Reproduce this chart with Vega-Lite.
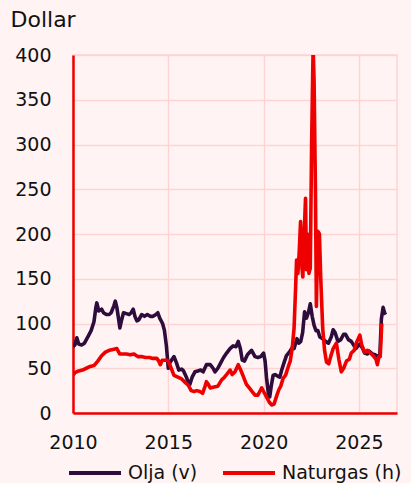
{
  "$schema": "https://vega.github.io/schema/vega-lite/v6.json",
  "autosize": "none",
  "width": 324,
  "height": 358,
  "padding": {"left": 73, "top": 55, "right": 14, "bottom": 70},
  "background": "#fff4f3",
  "config": {
    "view": {"stroke": "#ffd3d3", "strokeWidth": 1.5},
    "font": "DejaVu Sans"
  },
  "data": {"values": [
    {"s":"Olja (v)","t":2010.0,"v":74},{"s":"Olja (v)","t":2010.1,"v":76},{"s":"Olja (v)","t":2010.2,"v":84},{"s":"Olja (v)","t":2010.3,"v":77},{"s":"Olja (v)","t":2010.45,"v":76},{"s":"Olja (v)","t":2010.6,"v":78},{"s":"Olja (v)","t":2010.8,"v":86},{"s":"Olja (v)","t":2010.95,"v":92},{"s":"Olja (v)","t":2011.1,"v":102},{"s":"Olja (v)","t":2011.2,"v":118},{"s":"Olja (v)","t":2011.25,"v":123},{"s":"Olja (v)","t":2011.35,"v":114},{"s":"Olja (v)","t":2011.5,"v":116},{"s":"Olja (v)","t":2011.6,"v":112},{"s":"Olja (v)","t":2011.75,"v":110},{"s":"Olja (v)","t":2011.9,"v":110},{"s":"Olja (v)","t":2012.0,"v":112},{"s":"Olja (v)","t":2012.15,"v":120},{"s":"Olja (v)","t":2012.22,"v":125},{"s":"Olja (v)","t":2012.3,"v":118},{"s":"Olja (v)","t":2012.4,"v":104},{"s":"Olja (v)","t":2012.46,"v":95},{"s":"Olja (v)","t":2012.55,"v":104},{"s":"Olja (v)","t":2012.65,"v":112},{"s":"Olja (v)","t":2012.8,"v":111},{"s":"Olja (v)","t":2012.95,"v":110},{"s":"Olja (v)","t":2013.05,"v":112},{"s":"Olja (v)","t":2013.16,"v":116},{"s":"Olja (v)","t":2013.25,"v":108},{"s":"Olja (v)","t":2013.35,"v":103},{"s":"Olja (v)","t":2013.45,"v":104},{"s":"Olja (v)","t":2013.6,"v":110},{"s":"Olja (v)","t":2013.75,"v":108},{"s":"Olja (v)","t":2013.9,"v":110},{"s":"Olja (v)","t":2014.05,"v":108},{"s":"Olja (v)","t":2014.2,"v":108},{"s":"Olja (v)","t":2014.35,"v":110},{"s":"Olja (v)","t":2014.45,"v":112},{"s":"Olja (v)","t":2014.55,"v":106},{"s":"Olja (v)","t":2014.7,"v":100},{"s":"Olja (v)","t":2014.8,"v":92},{"s":"Olja (v)","t":2014.9,"v":75},{"s":"Olja (v)","t":2015.0,"v":50},{"s":"Olja (v)","t":2015.08,"v":56},{"s":"Olja (v)","t":2015.2,"v":60},{"s":"Olja (v)","t":2015.3,"v":63},{"s":"Olja (v)","t":2015.43,"v":56},{"s":"Olja (v)","t":2015.55,"v":48},{"s":"Olja (v)","t":2015.7,"v":49},{"s":"Olja (v)","t":2015.8,"v":47},{"s":"Olja (v)","t":2015.95,"v":40},{"s":"Olja (v)","t":2016.05,"v":34},{"s":"Olja (v)","t":2016.13,"v":32},{"s":"Olja (v)","t":2016.25,"v":40},{"s":"Olja (v)","t":2016.4,"v":46},{"s":"Olja (v)","t":2016.55,"v":47},{"s":"Olja (v)","t":2016.7,"v":48},{"s":"Olja (v)","t":2016.83,"v":46},{"s":"Olja (v)","t":2017.0,"v":54},{"s":"Olja (v)","t":2017.2,"v":54},{"s":"Olja (v)","t":2017.35,"v":50},{"s":"Olja (v)","t":2017.45,"v":46},{"s":"Olja (v)","t":2017.6,"v":50},{"s":"Olja (v)","t":2017.75,"v":56},{"s":"Olja (v)","t":2017.9,"v":62},{"s":"Olja (v)","t":2018.06,"v":67},{"s":"Olja (v)","t":2018.24,"v":72},{"s":"Olja (v)","t":2018.4,"v":75},{"s":"Olja (v)","t":2018.55,"v":74},{"s":"Olja (v)","t":2018.67,"v":80},{"s":"Olja (v)","t":2018.78,"v":72},{"s":"Olja (v)","t":2018.88,"v":59},{"s":"Olja (v)","t":2019.0,"v":58},{"s":"Olja (v)","t":2019.15,"v":65},{"s":"Olja (v)","t":2019.37,"v":70},{"s":"Olja (v)","t":2019.55,"v":63},{"s":"Olja (v)","t":2019.7,"v":62},{"s":"Olja (v)","t":2019.85,"v":63},{"s":"Olja (v)","t":2020.0,"v":67},{"s":"Olja (v)","t":2020.08,"v":58},{"s":"Olja (v)","t":2020.15,"v":40},{"s":"Olja (v)","t":2020.25,"v":22},{"s":"Olja (v)","t":2020.32,"v":18},{"s":"Olja (v)","t":2020.4,"v":30},{"s":"Olja (v)","t":2020.5,"v":42},{"s":"Olja (v)","t":2020.6,"v":43},{"s":"Olja (v)","t":2020.75,"v":41},{"s":"Olja (v)","t":2020.85,"v":40},{"s":"Olja (v)","t":2020.95,"v":48},{"s":"Olja (v)","t":2021.1,"v":58},{"s":"Olja (v)","t":2021.2,"v":64},{"s":"Olja (v)","t":2021.35,"v":68},{"s":"Olja (v)","t":2021.5,"v":73},{"s":"Olja (v)","t":2021.6,"v":72},{"s":"Olja (v)","t":2021.75,"v":83},{"s":"Olja (v)","t":2021.85,"v":78},{"s":"Olja (v)","t":2021.95,"v":80},{"s":"Olja (v)","t":2022.05,"v":90},{"s":"Olja (v)","t":2022.15,"v":113},{"s":"Olja (v)","t":2022.25,"v":106},{"s":"Olja (v)","t":2022.35,"v":112},{"s":"Olja (v)","t":2022.45,"v":122},{"s":"Olja (v)","t":2022.55,"v":108},{"s":"Olja (v)","t":2022.65,"v":98},{"s":"Olja (v)","t":2022.75,"v":92},{"s":"Olja (v)","t":2022.85,"v":92},{"s":"Olja (v)","t":2022.95,"v":85},{"s":"Olja (v)","t":2023.1,"v":83},{"s":"Olja (v)","t":2023.25,"v":80},{"s":"Olja (v)","t":2023.4,"v":78},{"s":"Olja (v)","t":2023.55,"v":85},{"s":"Olja (v)","t":2023.65,"v":93},{"s":"Olja (v)","t":2023.75,"v":90},{"s":"Olja (v)","t":2023.9,"v":80},{"s":"Olja (v)","t":2024.05,"v":82},{"s":"Olja (v)","t":2024.2,"v":88},{"s":"Olja (v)","t":2024.3,"v":88},{"s":"Olja (v)","t":2024.45,"v":82},{"s":"Olja (v)","t":2024.6,"v":80},{"s":"Olja (v)","t":2024.75,"v":75},{"s":"Olja (v)","t":2024.85,"v":72},{"s":"Olja (v)","t":2024.95,"v":75},{"s":"Olja (v)","t":2025.05,"v":77},{"s":"Olja (v)","t":2025.2,"v":72},{"s":"Olja (v)","t":2025.3,"v":67},{"s":"Olja (v)","t":2025.45,"v":66},{"s":"Olja (v)","t":2025.55,"v":69},{"s":"Olja (v)","t":2025.7,"v":66},{"s":"Olja (v)","t":2025.85,"v":65},{"s":"Olja (v)","t":2026.0,"v":63},{"s":"Olja (v)","t":2026.1,"v":65},{"s":"Olja (v)","t":2026.18,"v":105},{"s":"Olja (v)","t":2026.27,"v":118},{"s":"Olja (v)","t":2026.35,"v":112},{"s":"Olja (v)","t":2026.4,"v":110},
    {"s":"Naturgas (h)","t":2010.0,"v":42},{"s":"Naturgas (h)","t":2010.1,"v":45},{"s":"Naturgas (h)","t":2010.3,"v":47},{"s":"Naturgas (h)","t":2010.5,"v":48},{"s":"Naturgas (h)","t":2010.7,"v":50},{"s":"Naturgas (h)","t":2010.9,"v":52},{"s":"Naturgas (h)","t":2011.1,"v":53},{"s":"Naturgas (h)","t":2011.3,"v":58},{"s":"Naturgas (h)","t":2011.5,"v":64},{"s":"Naturgas (h)","t":2011.7,"v":68},{"s":"Naturgas (h)","t":2011.9,"v":70},{"s":"Naturgas (h)","t":2012.1,"v":71},{"s":"Naturgas (h)","t":2012.3,"v":72},{"s":"Naturgas (h)","t":2012.45,"v":66},{"s":"Naturgas (h)","t":2012.6,"v":66},{"s":"Naturgas (h)","t":2012.8,"v":66},{"s":"Naturgas (h)","t":2013.0,"v":65},{"s":"Naturgas (h)","t":2013.2,"v":66},{"s":"Naturgas (h)","t":2013.4,"v":63},{"s":"Naturgas (h)","t":2013.6,"v":63},{"s":"Naturgas (h)","t":2013.8,"v":62},{"s":"Naturgas (h)","t":2014.0,"v":62},{"s":"Naturgas (h)","t":2014.2,"v":61},{"s":"Naturgas (h)","t":2014.4,"v":61},{"s":"Naturgas (h)","t":2014.5,"v":58},{"s":"Naturgas (h)","t":2014.58,"v":54},{"s":"Naturgas (h)","t":2014.68,"v":59},{"s":"Naturgas (h)","t":2014.9,"v":59},{"s":"Naturgas (h)","t":2015.0,"v":58},{"s":"Naturgas (h)","t":2015.15,"v":50},{"s":"Naturgas (h)","t":2015.3,"v":42},{"s":"Naturgas (h)","t":2015.5,"v":40},{"s":"Naturgas (h)","t":2015.7,"v":38},{"s":"Naturgas (h)","t":2015.9,"v":34},{"s":"Naturgas (h)","t":2016.05,"v":31},{"s":"Naturgas (h)","t":2016.2,"v":25},{"s":"Naturgas (h)","t":2016.35,"v":24},{"s":"Naturgas (h)","t":2016.5,"v":25},{"s":"Naturgas (h)","t":2016.65,"v":24},{"s":"Naturgas (h)","t":2016.8,"v":22},{"s":"Naturgas (h)","t":2016.9,"v":28},{"s":"Naturgas (h)","t":2017.0,"v":35},{"s":"Naturgas (h)","t":2017.1,"v":32},{"s":"Naturgas (h)","t":2017.2,"v":28},{"s":"Naturgas (h)","t":2017.4,"v":29},{"s":"Naturgas (h)","t":2017.6,"v":30},{"s":"Naturgas (h)","t":2017.8,"v":37},{"s":"Naturgas (h)","t":2017.95,"v":40},{"s":"Naturgas (h)","t":2018.06,"v":43},{"s":"Naturgas (h)","t":2018.24,"v":48},{"s":"Naturgas (h)","t":2018.35,"v":43},{"s":"Naturgas (h)","t":2018.5,"v":46},{"s":"Naturgas (h)","t":2018.67,"v":54},{"s":"Naturgas (h)","t":2018.8,"v":48},{"s":"Naturgas (h)","t":2018.95,"v":40},{"s":"Naturgas (h)","t":2019.1,"v":32},{"s":"Naturgas (h)","t":2019.25,"v":28},{"s":"Naturgas (h)","t":2019.4,"v":24},{"s":"Naturgas (h)","t":2019.55,"v":20},{"s":"Naturgas (h)","t":2019.7,"v":20},{"s":"Naturgas (h)","t":2019.8,"v":24},{"s":"Naturgas (h)","t":2019.9,"v":28},{"s":"Naturgas (h)","t":2020.0,"v":24},{"s":"Naturgas (h)","t":2020.15,"v":18},{"s":"Naturgas (h)","t":2020.3,"v":12},{"s":"Naturgas (h)","t":2020.42,"v":9},{"s":"Naturgas (h)","t":2020.55,"v":10},{"s":"Naturgas (h)","t":2020.7,"v":20},{"s":"Naturgas (h)","t":2020.8,"v":26},{"s":"Naturgas (h)","t":2020.9,"v":30},{"s":"Naturgas (h)","t":2021.03,"v":39},{"s":"Naturgas (h)","t":2021.15,"v":42},{"s":"Naturgas (h)","t":2021.3,"v":52},{"s":"Naturgas (h)","t":2021.4,"v":58},{"s":"Naturgas (h)","t":2021.5,"v":72},{"s":"Naturgas (h)","t":2021.6,"v":95},{"s":"Naturgas (h)","t":2021.68,"v":140},{"s":"Naturgas (h)","t":2021.73,"v":171},{"s":"Naturgas (h)","t":2021.8,"v":156},{"s":"Naturgas (h)","t":2021.87,"v":180},{"s":"Naturgas (h)","t":2021.94,"v":214},{"s":"Naturgas (h)","t":2022.02,"v":160},{"s":"Naturgas (h)","t":2022.06,"v":152},{"s":"Naturgas (h)","t":2022.13,"v":200},{"s":"Naturgas (h)","t":2022.2,"v":240},{"s":"Naturgas (h)","t":2022.25,"v":160},{"s":"Naturgas (h)","t":2022.3,"v":200},{"s":"Naturgas (h)","t":2022.38,"v":156},{"s":"Naturgas (h)","t":2022.45,"v":162},{"s":"Naturgas (h)","t":2022.52,"v":300},{"s":"Naturgas (h)","t":2022.6,"v":410},{"s":"Naturgas (h)","t":2022.65,"v":370},{"s":"Naturgas (h)","t":2022.72,"v":250},{"s":"Naturgas (h)","t":2022.77,"v":119},{"s":"Naturgas (h)","t":2022.85,"v":203},{"s":"Naturgas (h)","t":2022.93,"v":200},{"s":"Naturgas (h)","t":2023.0,"v":150},{"s":"Naturgas (h)","t":2023.1,"v":95},{"s":"Naturgas (h)","t":2023.2,"v":70},{"s":"Naturgas (h)","t":2023.3,"v":57},{"s":"Naturgas (h)","t":2023.42,"v":55},{"s":"Naturgas (h)","t":2023.52,"v":63},{"s":"Naturgas (h)","t":2023.65,"v":72},{"s":"Naturgas (h)","t":2023.82,"v":78},{"s":"Naturgas (h)","t":2023.95,"v":60},{"s":"Naturgas (h)","t":2024.08,"v":46},{"s":"Naturgas (h)","t":2024.2,"v":50},{"s":"Naturgas (h)","t":2024.35,"v":58},{"s":"Naturgas (h)","t":2024.5,"v":60},{"s":"Naturgas (h)","t":2024.6,"v":67},{"s":"Naturgas (h)","t":2024.75,"v":70},{"s":"Naturgas (h)","t":2024.9,"v":80},{"s":"Naturgas (h)","t":2025.05,"v":87},{"s":"Naturgas (h)","t":2025.15,"v":76},{"s":"Naturgas (h)","t":2025.3,"v":68},{"s":"Naturgas (h)","t":2025.45,"v":70},{"s":"Naturgas (h)","t":2025.6,"v":67},{"s":"Naturgas (h)","t":2025.75,"v":64},{"s":"Naturgas (h)","t":2025.9,"v":60},{"s":"Naturgas (h)","t":2025.97,"v":54},{"s":"Naturgas (h)","t":2026.05,"v":63},{"s":"Naturgas (h)","t":2026.12,"v":63},{"s":"Naturgas (h)","t":2026.2,"v":100}
  ]},
  "mark": {"type": "line", "strokeWidth": 3.6, "clip": true, "strokeJoin": "round"},
  "encoding": {
    "x": {
      "field": "t", "type": "quantitative",
      "scale": {"domain": [2010, 2027], "nice": false, "zero": false},
      "axis": {
        "title": null, "values": [2010, 2015, 2020, 2025], "format": "d",
        "grid": true, "gridColor": "#ffd3d3", "gridWidth": 1.5,
        "domainColor": "#ee0000", "domainWidth": 2.5, "labelFlush": false,
        "ticks": false, "labelPadding": 20, "labelFontSize": 19, "labelColor": "#111111",
        "labelFont": "DejaVu Sans"
      }
    },
    "y": {
      "field": "v", "type": "quantitative",
      "scale": {"domain": [0, 400], "nice": false},
      "axis": {
        "title": "Dollar", "titleAngle": 0, "titleAlign": "left", "titleBaseline": "alphabetic",
        "titleX": -63, "titleY": -29, "titleFontSize": 22, "titleFontWeight": "normal",
        "titleColor": "#111111", "titleFont": "DejaVu Sans",
        "values": [0, 50, 100, 150, 200, 250, 300, 350, 400],
        "grid": true, "gridColor": "#ffd3d3", "gridWidth": 1.5,
        "domainColor": "#ee0000", "domainWidth": 2.5, "labelFlush": false,
        "ticks": false, "labelPadding": 22, "labelFontSize": 19, "labelColor": "#111111",
        "labelFont": "DejaVu Sans"
      }
    },
    "color": {
      "field": "s", "type": "nominal",
      "scale": {"domain": ["Olja (v)", "Naturgas (h)"], "range": ["#2e0c3c", "#ee0000"]},
      "legend": {
        "title": null, "orient": "none", "direction": "horizontal",
        "legendX": -6, "legendY": 390,
        "symbolType": "stroke", "symbolSize": 2704, "symbolStrokeWidth": 4,
        "labelFontSize": 19, "labelColor": "#111111", "labelFont": "DejaVu Sans",
        "labelOffset": 5, "columnPadding": 17
      }
    }
  }
}
